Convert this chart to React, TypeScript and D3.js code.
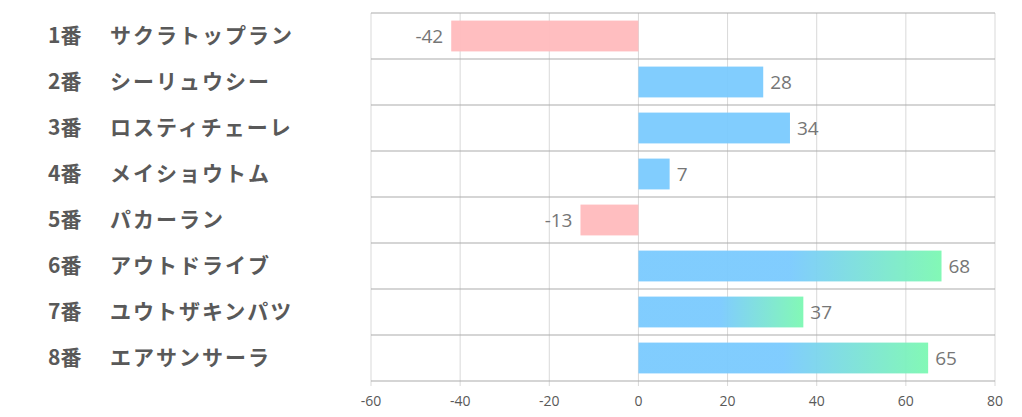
import React from "react";
import * as d3 from "d3";

const numbers = ["1番", "2番", "3番", "4番", "5番", "6番", "7番", "8番"];
const names = ["サクラトップラン", "シーリュウシー", "ロスティチェーレ", "メイショウトム", "パカーラン", "アウトドライブ", "ユウトザキンパツ", "エアサンサーラ"];
const values = [-42, 28, 34, 7, -13, 68, 37, 65];
const ticks = [-60, -40, -20, 0, 20, 40, 60, 80];

const W = 1022, H = 417;
const left = 371, right = 995, top = 13, bottom = 381;

export default function App() {
  const x = d3.scaleLinear().domain([-60, 80]).range([left, right]);
  const y = d3.scaleBand<number>().domain(d3.range(values.length)).range([top, bottom]).paddingInner(0.33).paddingOuter(0.165);
  const band = (bottom - top) / values.length;
  return (
    <svg width={W} height={H} style={{ position: "absolute", left: 0, top: 0 }}>
      <defs>
        <linearGradient id="grad" x1="0" x2="1" y1="0" y2="0">
          <stop offset="0" stopColor="#7ACAFE" />
          <stop offset="0.5" stopColor="#7ACAFE" />
          <stop offset="1" stopColor="#7CF8B2" />
        </linearGradient>
      </defs>
      <rect width={W} height={H} fill="#fff" />
      {ticks.map((t) => (
        <line key={"v" + t} x1={x(t)} x2={x(t)} y1={top} y2={bottom + 5} stroke="#d9d9d9" strokeWidth={1} />
      ))}
      {d3.range(values.length + 1).map((i) => (
        <line key={"h" + i} x1={left} x2={right} y1={top + i * band} y2={top + i * band} stroke="#ababab" strokeWidth={1} />
      ))}
      {values.map((v, i) => {
        const x0 = x(Math.min(0, v));
        const x1 = x(Math.max(0, v));
        const fill = v < 0 ? "#FFBBBD" : v > 35 ? "url(#grad)" : "#7ACAFE";
        return (
          <rect key={"b" + i} x={x0} y={y(i)!} width={x1 - x0} height={y.bandwidth()} fill={fill} opacity={0.95} />
        );
      })}
      {values.map((v, i) => (
        <text key={"l" + i} x={v < 0 ? x(v) - 8 : x(v) + 7} y={y(i)! + y.bandwidth() / 2} dy="0.35em"
          textAnchor={v < 0 ? "end" : "start"} fontFamily="'Open Sans', 'Noto Sans', sans-serif" fontSize={19} fill="#767676">
          {v}
        </text>
      ))}
      {ticks.map((t) => (
        <text key={"t" + t} x={x(t)} y={401} dy="0.35em" textAnchor="middle" fontFamily="'Open Sans', 'Noto Sans', sans-serif" fontSize={14} fill="#595959">
          {t}
        </text>
      ))}
      {values.map((_, i) => (
        <g key={"n" + i} fontFamily="'Noto Sans CJK JP', sans-serif" fontWeight="bold" fontSize={21} fill="#595959">
          <text x={48} y={top + band * (i + 0.5)} dy="0.35em">{numbers[i]}</text>
          <text x={110} y={top + band * (i + 0.5)} dy="0.35em" letterSpacing={2}>{names[i]}</text>
        </g>
      ))}
    </svg>
  );
}
